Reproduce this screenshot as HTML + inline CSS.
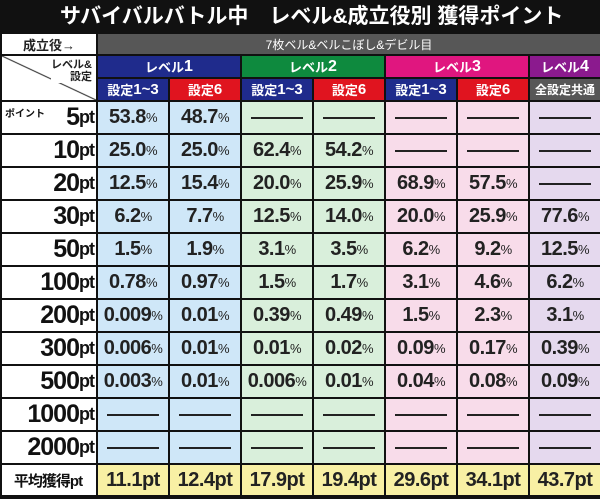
<!DOCTYPE html><html><head><meta charset="utf-8"><style>
body{margin:0;background:#111;}
#w{width:600px;height:499px;background:#111;position:relative;overflow:hidden;font-family:"Liberation Sans","Noto Sans CJK JP",sans-serif;}
#t{height:34px;line-height:34px;color:#fff;font-weight:bold;font-size:21px;padding-left:60px;}
#g{position:absolute;top:34px;left:2px;display:grid;grid-template-columns:94px repeat(7,70px);grid-template-rows:20px 21px 21px repeat(11,31px) 30px;gap:2px;}
#g div{display:flex;align-items:center;justify-content:center;overflow:hidden;white-space:nowrap;}
.wh{background:#fff;color:#222;font-weight:bold;}
.lab{background:#fff;justify-content:flex-end!important;padding-right:2px;font-weight:bold;font-size:25px;color:#111;letter-spacing:-1px;}
.lab small{font-size:18px;}
.h{color:#fff;font-weight:bold;font-size:13px;}
.b1{background:#cfe7f8}.b2{background:#d9efdb}.b3{background:#f8dcea}.b4{background:#e5d9ee}.y{background:#f8f0a4}
.v{font-size:20px;font-weight:bold;color:#222;letter-spacing:-0.5px;}
.v span{font-size:13px;font-weight:normal;}
.d::after{content:"";display:block;width:52px;height:2px;background:#222;}
</style></head><body><div id="w">
<div id="t">サバイバルバトル中　レベル&amp;成立役別 獲得ポイント</div>
<div id="g">
<div class="wh" style="font-size:13px">成立役→</div>
<div class="h" style="grid-column:2/9;background:#575757;font-weight:normal;font-size:12px">7枚ベル&amp;ベルこぼし&amp;デビル目</div>
<div class="wh" style="grid-row:2/4;grid-column:1;align-items:flex-start!important;justify-content:flex-end!important;font-size:11px;line-height:12px;text-align:right;padding:3px 4px 0 0;background:linear-gradient(to bottom left,#fff calc(50% - 1px),#222 50%,#fff calc(50% + 1px));"><span style="background:#fff">レベル&amp;<br>設定</span></div>
<div class="h" style="grid-column:2/4;background:#1f2b8c">レベル<b style="font-size:16px">1</b></div>
<div class="h" style="grid-column:4/6;background:#0e8a3e">レベル<b style="font-size:16px">2</b></div>
<div class="h" style="grid-column:6/8;background:#e0167f">レベル<b style="font-size:16px">3</b></div>
<div class="h" style="background:#8b1a8e">レベル<b style="font-size:16px">4</b></div>
<div class="h" style="background:#1f2b8c">設定<b style="font-size:15px">1~3</b></div>
<div class="h" style="background:#e0141f">設定<b style="font-size:15px">6</b></div>
<div class="h" style="background:#1f2b8c">設定<b style="font-size:15px">1~3</b></div>
<div class="h" style="background:#e0141f">設定<b style="font-size:15px">6</b></div>
<div class="h" style="background:#1f2b8c">設定<b style="font-size:15px">1~3</b></div>
<div class="h" style="background:#e0141f">設定<b style="font-size:15px">6</b></div>
<div class="h" style="background:#575757;font-size:12px">全設定共通</div>

<div class="lab" style="position:relative"><i style="position:absolute;left:3px;top:3px;font-size:10px;font-style:normal;letter-spacing:0">ポイント</i>5<small>pt</small></div>
<div class="v b1">53.8<span>%</span></div><div class="v b1">48.7<span>%</span></div><div class="b2 d"></div><div class="b2 d"></div><div class="b3 d"></div><div class="b3 d"></div><div class="b4 d"></div>

<div class="lab">10<small>pt</small></div>
<div class="v b1">25.0<span>%</span></div><div class="v b1">25.0<span>%</span></div><div class="v b2">62.4<span>%</span></div><div class="v b2">54.2<span>%</span></div><div class="b3 d"></div><div class="b3 d"></div><div class="b4 d"></div>

<div class="lab">20<small>pt</small></div>
<div class="v b1">12.5<span>%</span></div><div class="v b1">15.4<span>%</span></div><div class="v b2">20.0<span>%</span></div><div class="v b2">25.9<span>%</span></div><div class="v b3">68.9<span>%</span></div><div class="v b3">57.5<span>%</span></div><div class="b4 d"></div>

<div class="lab">30<small>pt</small></div>
<div class="v b1">6.2<span>%</span></div><div class="v b1">7.7<span>%</span></div><div class="v b2">12.5<span>%</span></div><div class="v b2">14.0<span>%</span></div><div class="v b3">20.0<span>%</span></div><div class="v b3">25.9<span>%</span></div><div class="v b4">77.6<span>%</span></div>

<div class="lab">50<small>pt</small></div>
<div class="v b1">1.5<span>%</span></div><div class="v b1">1.9<span>%</span></div><div class="v b2">3.1<span>%</span></div><div class="v b2">3.5<span>%</span></div><div class="v b3">6.2<span>%</span></div><div class="v b3">9.2<span>%</span></div><div class="v b4">12.5<span>%</span></div>

<div class="lab">100<small>pt</small></div>
<div class="v b1">0.78<span>%</span></div><div class="v b1">0.97<span>%</span></div><div class="v b2">1.5<span>%</span></div><div class="v b2">1.7<span>%</span></div><div class="v b3">3.1<span>%</span></div><div class="v b3">4.6<span>%</span></div><div class="v b4">6.2<span>%</span></div>

<div class="lab">200<small>pt</small></div>
<div class="v b1">0.009<span>%</span></div><div class="v b1">0.01<span>%</span></div><div class="v b2">0.39<span>%</span></div><div class="v b2">0.49<span>%</span></div><div class="v b3">1.5<span>%</span></div><div class="v b3">2.3<span>%</span></div><div class="v b4">3.1<span>%</span></div>

<div class="lab">300<small>pt</small></div>
<div class="v b1">0.006<span>%</span></div><div class="v b1">0.01<span>%</span></div><div class="v b2">0.01<span>%</span></div><div class="v b2">0.02<span>%</span></div><div class="v b3">0.09<span>%</span></div><div class="v b3">0.17<span>%</span></div><div class="v b4">0.39<span>%</span></div>

<div class="lab">500<small>pt</small></div>
<div class="v b1">0.003<span>%</span></div><div class="v b1">0.01<span>%</span></div><div class="v b2">0.006<span>%</span></div><div class="v b2">0.01<span>%</span></div><div class="v b3">0.04<span>%</span></div><div class="v b3">0.08<span>%</span></div><div class="v b4">0.09<span>%</span></div>

<div class="lab">1000<small>pt</small></div>
<div class="b1 d"></div><div class="b1 d"></div><div class="b2 d"></div><div class="b2 d"></div><div class="b3 d"></div><div class="b3 d"></div><div class="b4 d"></div>

<div class="lab">2000<small>pt</small></div>
<div class="b1 d"></div><div class="b1 d"></div><div class="b2 d"></div><div class="b2 d"></div><div class="b3 d"></div><div class="b3 d"></div><div class="b4 d"></div>

<div class="lab" style="font-size:15px;justify-content:center!important">平均獲得pt</div>
<div class="v y">11.1pt</div><div class="v y">12.4pt</div><div class="v y">17.9pt</div><div class="v y">19.4pt</div><div class="v y">29.6pt</div><div class="v y">34.1pt</div><div class="v y">43.7pt</div>
</div></div></body></html>
